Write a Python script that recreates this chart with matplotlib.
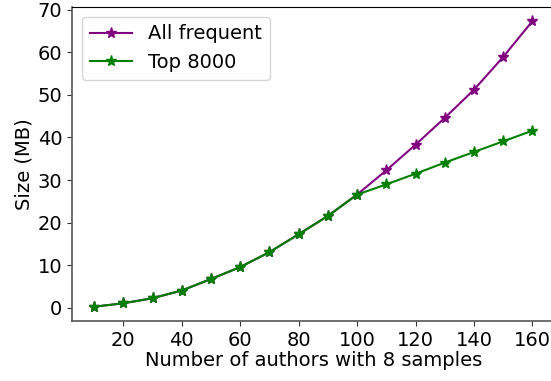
import numpy as np
import matplotlib
matplotlib.use('Agg')
import matplotlib.pyplot as plt

authors = [10, 20, 30, 40, 50, 60, 70, 80, 90, 100, 110, 120, 130, 140, 150, 160]
all_frequent = [0.3, 1.1, 2.3, 4.1, 6.8, 9.6, 13.1, 17.3, 21.6, 26.6,
                32.3, 38.3, 44.6, 51.2, 58.9, 67.3]
top_8000 = [0.3, 1.1, 2.3, 4.1, 6.8, 9.6, 13.1, 17.3, 21.6, 26.6,
            29.0, 31.5, 34.1, 36.6, 39.1, 41.6]

plt.rcParams['font.size'] = 14
fig = plt.figure(figsize=(5.51, 3.81), dpi=100)
ax = fig.add_axes([0.131, 0.1575, 0.875, 0.8245])

ax.plot(authors, all_frequent, color='purple', marker='*', markersize=8, linewidth=1.5, label='All frequent')
ax.plot(authors, top_8000, color='green', marker='*', markersize=8, linewidth=1.5, label='Top 8000')

ax.set_xticks([20, 40, 60, 80, 100, 120, 140, 160])
ax.set_yticks([0, 10, 20, 30, 40, 50, 60, 70])
ax.set_xlabel('Number of authors with 8 samples', labelpad=1)
ax.set_ylabel('Size (MB)', labelpad=3)

for side in ['left', 'bottom']:
    ax.spines[side].set_color('#555555')
    ax.spines[side].set_linewidth(1.2)
ax.tick_params(colors='#333333', labelcolor='black')
ax.spines['right'].set_visible(False)

ax.legend(loc='upper left', fontsize=14, handlelength=2.2)

fig.savefig('out.png', dpi=100)
